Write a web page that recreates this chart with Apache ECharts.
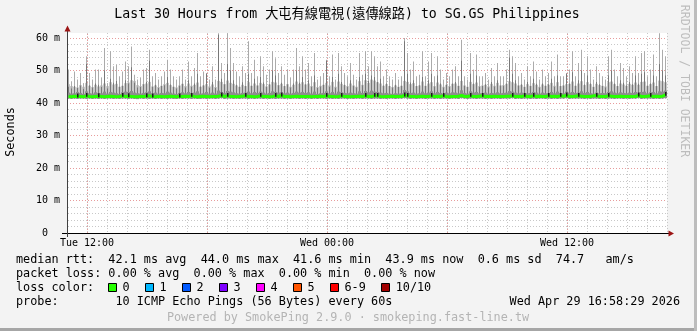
<!DOCTYPE html>
<html><head><meta charset="utf-8">
<script src="https://cdn.jsdelivr.net/npm/echarts@6/dist/echarts.min.js"></script>
<style>html,body{margin:0;padding:0;background:#f3f3f3}#c{width:697px;height:331px}</style>
</head><body><div id="c"></div>
<script>
// ---- data (minutes from Tue 11:00, 9-minute samples, values in ms) ----
const titleText = 'Last 30 Hours from 大屯有線電視(遠傳線路) to SG.GS Philippines';
const xTickLabels = {60: 'Tue 12:00', 780: 'Wed 00:00', 1500: 'Wed 12:00'};
const majorX = [60, 420, 780, 1140, 1500];
const minorY = [2,4,6,8,12,14,16,18,22,24,26,28,32,34,36,38,42,44,46,48,52,54,56,58];
const stepMin = 9;

const hi = [
50.3,46.7,49.7,47.2,49.2,46.1,54.4,49.2,47.2,50.3,
50.3,47.7,56.9,46.1,55.9,51.3,51.8,48.2,49.7,52.8,
51.3,57.4,48.7,47.2,47.7,50.3,50.8,56.4,48.2,49.2,
47.2,48.2,49.7,53.3,50.3,48.2,47.2,48.2,50.3,47.2,
52.8,48.2,50.8,55.4,48.2,49.7,49.2,47.2,51.3,47.2,
61.5,52.3,49.2,61.5,56.9,52.3,49.7,48.2,51.3,49.2,
59.0,49.2,53.3,48.2,54.4,51.3,48.7,50.3,55.9,53.8,
49.2,51.3,48.7,50.3,47.7,50.3,56.9,51.3,54.4,50.3,
52.3,48.2,55.4,47.2,48.2,49.2,53.3,48.2,54.9,47.2,
55.4,51.3,49.2,48.2,52.3,48.7,47.2,55.4,48.7,55.9,
51.3,55.9,54.4,51.3,52.8,48.2,50.3,48.2,47.2,49.2,
47.2,48.2,60.0,55.4,50.3,52.8,48.2,48.7,55.9,48.2,
52.8,55.4,48.2,54.4,50.3,47.2,49.2,48.2,50.3,51.3,
48.2,59.5,48.2,47.2,55.4,50.3,54.9,48.2,48.2,49.2,
47.2,50.8,48.2,52.3,48.2,48.2,50.3,56.4,54.4,52.3,
48.2,49.2,47.2,51.3,48.2,52.8,49.7,47.2,50.3,48.2,
49.2,52.8,48.2,54.9,48.2,48.2,49.2,50.3,55.9,48.2,
52.3,56.4,49.2,54.4,50.3,47.2,51.3,49.2,48.2,47.2,
54.4,56.4,50.3,48.2,52.3,50.8,48.2,51.3,49.2,54.4,
49.2,55.4,55.9,48.2,50.3,54.9,48.2,61.5,56.4,54.4];

const hi2 = [
45.0,44.5,45.2,44.6,45.4,44.3,52.0,45.5,44.8,46.0,
45.6,44.9,50.0,44.5,47.5,46.2,46.8,45.0,45.3,47.0,
46.0,51.0,46.2,44.8,44.9,45.8,46.5,53.0,45.0,45.6,
44.6,45.2,45.5,48.0,45.7,45.0,44.5,45.3,45.9,44.8,
47.0,45.0,46.0,49.0,45.1,45.5,49.0,44.7,46.5,44.6,
61.0,47.5,45.8,52.0,50.0,47.0,45.6,45.0,46.4,45.2,
49.0,45.3,47.5,45.4,48.0,46.3,45.0,45.8,50.0,48.5,
45.5,46.2,45.2,45.8,44.8,46.0,50.0,46.2,48.0,45.8,
47.0,45.0,48.5,44.6,45.1,45.6,53.0,45.0,48.0,44.7,
49.0,46.5,45.6,45.0,47.0,45.3,44.8,48.0,45.5,49.0,
46.8,48.5,48.0,46.5,47.5,45.4,46.0,45.2,44.8,45.6,
44.9,45.3,59.0,49.0,46.3,47.0,45.2,45.5,48.0,45.2,
47.0,49.0,45.1,48.5,46.0,44.8,45.6,45.0,46.0,46.5,
45.2,53.0,45.3,44.9,49.0,46.0,48.5,45.0,45.2,45.8,
44.8,46.5,45.1,47.0,45.4,45.3,46.0,54.0,49.0,47.0,
45.4,45.8,44.9,46.5,45.2,47.5,45.9,44.8,46.0,45.3,
45.8,47.5,45.0,48.5,45.2,45.4,49.0,46.0,49.5,45.3,
47.0,50.0,45.7,48.5,46.0,44.9,46.5,45.8,45.2,44.8,
48.5,50.0,46.0,45.2,47.0,46.2,45.4,46.5,45.8,48.5,
45.9,49.0,49.5,45.3,46.0,48.5,45.2,52.0,50.0,48.5];

const mid = [
45.8,45.2,45.0,44.8,45.5,45.0,46.2,45.3,44.9,45.6,
45.1,45.4,46.0,45.2,46.4,45.7,45.9,45.0,45.3,46.1,
46.3,47.0,46.8,45.5,45.2,45.8,46.0,46.5,45.1,45.4,
44.9,45.3,45.8,46.2,45.5,45.0,44.8,45.4,45.9,45.2,
46.0,45.3,45.6,46.3,45.0,45.4,45.8,45.1,45.7,44.9,
46.8,46.5,45.8,46.9,46.2,45.9,45.4,45.0,45.6,45.2,
46.4,45.3,46.0,45.4,46.2,45.8,45.1,45.7,46.5,46.3,
45.5,45.9,45.2,45.8,45.0,45.6,46.6,45.9,46.4,45.7,
46.0,45.2,46.4,44.9,45.3,45.6,46.2,45.4,46.5,45.0,
46.6,45.9,45.5,45.2,46.0,45.4,45.0,46.7,45.6,47.0,
46.2,47.2,46.9,46.4,46.0,45.3,45.8,45.2,44.9,45.4,
45.0,45.3,46.8,46.5,45.8,46.1,45.2,45.4,46.6,45.3,
46.0,46.4,45.2,46.3,45.7,45.0,45.6,45.2,45.9,46.0,
45.3,46.8,45.4,45.0,46.5,45.8,46.3,45.2,45.4,45.6,
45.1,45.9,45.3,46.2,45.4,45.5,45.9,46.7,46.4,46.0,
45.4,45.6,45.0,45.8,45.3,46.1,45.6,45.0,45.7,45.3,
45.6,46.2,45.3,46.4,45.2,45.4,45.8,45.9,46.6,45.3,
46.0,46.7,45.5,46.4,45.8,45.0,45.9,45.5,45.3,45.1,
46.4,46.6,45.8,45.2,46.0,45.7,45.3,45.9,45.6,46.3,
45.6,46.5,46.6,45.3,45.8,46.3,45.2,46.9,46.7,46.4];

const dark = [
43.2,42.9,43.0,43.4,43.1,42.8,43.6,43.0,42.9,43.3,
43.1,43.0,43.5,42.9,43.4,43.2,43.0,42.8,43.3,43.5,
43.4,43.7,43.2,43.0,42.9,43.1,43.3,43.6,43.0,43.2,
42.9,43.1,43.0,43.5,43.2,42.9,42.8,43.1,43.3,43.0,
43.4,43.1,43.2,43.6,42.9,43.0,43.4,42.9,43.2,42.9,
43.8,43.4,43.1,43.7,43.5,43.3,43.0,42.9,43.1,43.2,
43.5,43.0,43.4,43.1,43.5,43.2,42.9,43.1,43.6,43.4,
43.2,43.3,43.0,43.2,42.9,43.1,43.5,43.2,43.4,43.1,
43.3,42.9,43.5,42.8,43.0,43.1,43.6,43.0,43.4,42.9,
43.5,43.3,43.1,43.0,43.2,43.0,42.9,43.6,43.1,43.7,
43.3,43.8,43.5,43.4,43.2,43.0,43.1,42.9,42.8,43.0,
42.9,43.0,44.0,43.6,43.1,43.2,42.9,43.0,43.5,43.0,
43.2,43.6,43.0,43.4,43.1,42.9,43.2,43.0,43.3,43.2,
43.0,43.9,43.1,42.9,43.6,43.2,43.4,43.0,43.1,43.2,
42.9,43.1,43.0,43.3,43.0,43.1,43.2,43.7,43.5,43.2,
43.0,43.2,43.1,43.0,43.1,43.4,43.2,42.9,43.2,43.0,
43.1,43.4,43.0,43.5,43.1,43.0,43.5,43.2,43.4,43.1,
43.2,43.6,43.1,43.4,43.0,42.9,43.2,43.0,43.1,43.0,
43.4,43.6,43.2,43.0,43.3,43.1,43.0,43.2,43.1,43.4,
43.2,43.4,43.5,43.0,43.3,43.4,43.0,43.6,43.5,43.8];

const lo = [
41.4,41.3,41.4,41.3,41.4,41.4,41.3,41.4,41.3,41.4,
41.3,41.4,41.3,41.4,41.4,41.3,41.4,41.3,41.4,41.4,
41.3,41.4,41.3,41.2,41.4,41.3,41.4,41.3,41.4,41.3,
41.4,41.3,41.4,41.3,41.4,41.3,41.3,41.4,41.3,41.4,
41.4,41.3,41.4,41.3,41.3,41.4,41.3,41.4,41.4,41.3,
41.4,41.5,41.3,41.4,41.4,41.3,41.4,41.3,41.4,41.4,
41.3,41.4,41.3,41.4,41.4,41.3,41.4,41.3,41.4,41.3,
41.4,41.4,41.3,41.4,41.3,41.4,41.4,41.3,41.4,41.3,
41.4,41.3,41.4,41.3,41.4,41.4,41.3,41.4,41.3,41.4,
41.3,41.4,41.4,41.3,41.4,41.3,41.4,41.4,41.3,41.4,
41.4,41.3,41.4,41.4,41.3,41.4,41.3,41.4,41.4,41.3,
41.4,41.4,41.5,41.4,41.3,41.4,41.3,41.4,41.4,41.3,
41.4,41.4,41.3,41.4,41.3,41.4,41.4,41.3,41.4,41.4,
41.3,41.5,41.4,41.3,41.4,41.4,41.3,41.4,41.4,41.3,
41.4,41.3,41.4,41.4,41.3,41.4,41.4,41.4,41.5,41.3,
41.4,41.3,41.4,41.4,41.3,41.4,41.3,41.4,41.4,41.3,
41.4,41.3,41.4,41.3,41.4,41.4,41.5,41.3,41.4,41.4,
41.4,41.4,41.3,41.4,41.3,41.4,41.4,41.3,41.4,41.3,
41.4,41.4,41.3,41.4,41.4,41.3,41.4,41.3,41.4,41.4,
41.5,41.3,41.4,41.4,41.4,41.3,41.4,41.3,41.4,41.5];

const med = [
42.0,41.9,42.1,42.0,42.0,41.9,42.2,42.0,41.9,42.0,
42.1,42.0,41.9,42.0,42.1,42.0,41.9,42.0,42.2,42.0,
42.1,42.0,41.9,41.9,42.0,42.0,42.1,42.2,42.0,41.9,
42.0,42.0,41.9,42.0,42.1,42.0,41.9,42.0,42.0,42.1,
42.0,42.2,42.0,41.9,42.0,42.1,42.0,41.9,42.0,42.0,
42.1,42.3,42.0,42.2,42.0,42.0,41.9,42.0,42.1,42.2,
42.0,42.0,41.9,42.0,42.2,42.0,42.0,41.9,42.0,42.2,
42.0,42.3,42.0,42.0,41.9,42.0,42.1,42.0,42.0,42.0,
42.0,41.9,42.0,42.0,42.1,42.0,42.2,42.0,42.0,41.9,
42.0,42.2,42.0,42.0,41.9,42.0,42.0,42.1,42.0,42.2,
42.0,42.0,42.2,42.2,42.0,41.9,42.0,42.0,42.1,42.0,
42.0,42.0,42.3,42.2,42.0,42.0,41.9,42.0,42.1,42.0,
42.0,42.2,42.0,42.1,42.0,42.2,42.0,41.9,42.0,42.0,
42.1,42.3,42.0,42.0,42.2,42.0,42.0,42.1,42.2,42.0,
42.0,42.0,42.1,42.0,42.0,42.0,42.1,42.1,42.2,42.0,
42.0,42.0,42.2,42.0,42.0,42.2,42.0,42.1,42.0,42.0,
42.2,42.0,42.1,42.0,42.2,42.1,42.3,42.0,42.0,42.1,
42.2,42.1,42.0,42.0,42.0,42.2,42.2,42.0,42.0,42.0,
42.2,42.1,42.0,42.0,42.1,42.0,42.0,42.0,42.0,42.0,
42.3,42.0,42.0,42.1,42.2,42.0,42.1,42.0,42.1,42.5];

const blackIdx = [3,6,10,18,20,26,28,37,41,51,53,59,64,69,71,86,91,99,102,103,112,113,121,125,134,138,148,152,155,160,164,166,170,176,180,190,194,199];

const legendLines = [
  'median rtt:  42.1 ms avg  44.0 ms max  41.6 ms min  43.9 ms now  0.6 ms sd  74.7   am/s',
  'packet loss: 0.00 % avg  0.00 % max  0.00 % min  0.00 % now',
  'loss color:',
  'probe:        10 ICMP Echo Pings (56 Bytes) every 60s'
];
const lossLabels = ['0','1','2','3','4','5','6-9','10/10'];
const lossColors = ['#26ff00','#00b8ff','#0059ff','#7e00ff','#ff00ff','#ff5500','#ff0000','#a10000'];
const dateText = 'Wed Apr 29 16:58:29 2026';
const poweredText = 'Powered by SmokePing 2.9.0 · smokeping.fast-line.tw';
const watermark = 'RRDTOOL / TOBI OETIKER';

// ---- build ----
const MONO = '"DejaVu Sans Mono", "Liberation Mono", monospace';
const TITLEF = '"DejaVu Sans Mono", "Noto Sans CJK TC", monospace';
const xc = i => i * stepMin + stepMin / 2;
const smokeData = hi.map((h, i) => [xc(i), lo[i], mid[i], dark[i], h, hi2[i]]);
const medData = med.map((m, i) => [xc(i), m]);
const blackData = blackIdx.map(i => [xc(i), med[i]]);

const chart = echarts.init(document.getElementById('c'), null, {renderer: 'canvas'});

function crisp(v) { return Math.round(v - 0.5) + 0.5; }

const graphics = [];
graphics.push({type: 'text', x: 347, y: 15, z: 10, style: {text: titleText, fontSize: 13.2, fontFamily: TITLEF, fill: '#000', align: 'center', verticalAlign: 'middle', textAlign: 'center', textVerticalAlign: 'middle'}});
graphics.push({type: 'text', x: 11, y: 132, rotation: Math.PI / 2, z: 10, style: {text: 'Seconds', fontSize: 11.8, fontFamily: MONO, fill: '#000', align: 'center', verticalAlign: 'middle', textAlign: 'center', textVerticalAlign: 'middle'}});
graphics.push({type: 'text', x: 684, y: 81, rotation: -Math.PI / 2, z: 10, style: {text: watermark, fontSize: 11.5, fontFamily: MONO, fill: '#bdbdbd', align: 'center', verticalAlign: 'middle', textAlign: 'center', textVerticalAlign: 'middle'}});
const rowY = [259.5, 273.5, 287.5, 301.5];
legendLines.forEach((t, k) => graphics.push({type: 'text', x: 16, y: rowY[k], z: 10, style: {text: t, fontSize: 11.8, fontFamily: MONO, fill: '#000', align: 'left', verticalAlign: 'middle', textAlign: 'left', textVerticalAlign: 'middle'}}));
let bx = 107.5;
lossLabels.forEach((lab, k) => {
  graphics.push({type: 'rect', z: 10, shape: {x: Math.round(bx) + 0.5, y: 283.5, width: 8, height: 8}, style: {fill: lossColors[k], stroke: '#000', lineWidth: 1}});
  graphics.push({type: 'text', x: bx + 15, y: 287.5, z: 10, style: {text: lab, fontSize: 11.8, fontFamily: MONO, fill: '#000', align: 'left', verticalAlign: 'middle', textAlign: 'left', textVerticalAlign: 'middle'}});
  bx += 15 + lab.length * 7.1 + 14.9;
});
graphics.push({type: 'text', x: 680, y: 301.5, z: 10, style: {text: dateText, fontSize: 11.8, fontFamily: MONO, fill: '#000', align: 'right', verticalAlign: 'middle', textAlign: 'right', textVerticalAlign: 'middle'}});
graphics.push({type: 'text', x: 348, y: 318, z: 10, style: {text: poweredText, fontSize: 11.8, fontFamily: MONO, fill: '#b4b4b4', align: 'center', verticalAlign: 'middle', textAlign: 'center', textVerticalAlign: 'middle'}});
// axis lines and arrows
graphics.push({type: 'line', z: 20, shape: {x1: 62, y1: 233.5, x2: 670, y2: 233.5}, style: {stroke: '#000', lineWidth: 1}});
graphics.push({type: 'line', z: 20, shape: {x1: 67.5, y1: 237, x2: 67.5, y2: 29}, style: {stroke: '#404040', lineWidth: 1}});
graphics.push({type: 'polygon', z: 21, shape: {points: [[67.5, 25.5], [64.5, 31.5], [70.5, 31.5]]}, style: {fill: '#9c1414'}});
graphics.push({type: 'polygon', z: 21, shape: {points: [[674, 233.5], [668.5, 230.5], [668.5, 236.5]]}, style: {fill: '#9c1414'}});
// frame shading
graphics.push({type: 'rect', z: 30, shape: {x: 0, y: 328, width: 697, height: 3}, style: {fill: '#a6a6a6'}});
graphics.push({type: 'rect', z: 30, shape: {x: 694, y: 0, width: 3, height: 331}, style: {fill: '#bdbdbd'}});

const option = {
  animation: false,
  backgroundColor: '#f3f3f3',
  grid: {left: 67, right: 30, top: 33, bottom: 98, show: true, backgroundColor: '#ffffff', borderWidth: 0},
  xAxis: {
    type: 'value', min: 0, max: 1800, interval: 60,
    axisLine: {show: false}, axisTick: {show: false},
    axisLabel: {formatter: v => xTickLabels[v] || '', fontSize: 10, fontFamily: MONO, color: '#000', margin: 5, hideOverlap: false},
    splitLine: {show: true, showMinLine: false, lineStyle: {color: '#c8c8c8', type: [1, 2], width: 1}}
  },
  yAxis: {
    type: 'value', min: 0, max: 61.54, interval: 10,
    axisLine: {show: false}, axisTick: {show: false},
    axisLabel: {showMaxLabel: false, formatter: v => v === 0 ? '0  ' : (Math.abs(v % 10) < 1e-6 ? v + ' m' : ''), fontSize: 10, fontFamily: MONO, color: '#000', margin: 7},
    splitLine: {show: true, showMinLine: false, showMaxLine: false, lineStyle: {color: '#e89c9c', type: [1, 2], width: 1}}
  },
  graphic: graphics,
  series: [
    {
      type: 'custom', z: 1, silent: true, data: minorY.map(v => [v]),
      encode: {y: 0},
      renderItem: (params, api) => {
        const a = api.coord([0, api.value(0)]);
        const b = api.coord([1800, api.value(0)]);
        const y = crisp(a[1]);
        return {type: 'line', shape: {x1: a[0] + 1, y1: y, x2: b[0], y2: y}, style: {stroke: '#c8c8c8', lineWidth: 1, lineDash: [1, 2]}};
      }
    },
    {
      type: 'custom', z: 1, silent: true, data: majorX.map(v => [v]),
      encode: {x: 0},
      renderItem: (params, api) => {
        const a = api.coord([api.value(0), 0]);
        const b = api.coord([api.value(0), 61.54]);
        const x = crisp(a[0]);
        return {type: 'line', shape: {x1: x, y1: a[1], x2: x, y2: b[1]}, style: {stroke: '#e89c9c', lineWidth: 1, lineDash: [1, 2]}};
      }
    },
    {
      type: 'custom', z: 2, silent: true, data: smokeData,
      encode: {x: 0, y: [1, 2, 3, 4, 5]},
      renderItem: (params, api) => {
        const x = api.value(0);
        const pLo = api.coord([x, api.value(1)]);
        const pMid = api.coord([x, api.value(2)]);
        const pDark = api.coord([x, api.value(3)]);
        const pHi = api.coord([x, api.value(4)]);
        const pHi2 = api.coord([x, api.value(5)]);
        const w = api.size([stepMin, 0])[0];
        const cx = pLo[0];
        return {type: 'group', children: [
          {type: 'rect', shape: {x: cx - w / 2, y: pMid[1], width: w, height: pLo[1] - pMid[1]}, style: {fill: '#c9c9c9'}},
          {type: 'rect', shape: {x: cx - 0.5, y: pHi[1], width: 1, height: pLo[1] - pHi[1]}, style: {fill: '#ababab'}},
          {type: 'rect', shape: {x: cx - 0.5, y: pHi2[1], width: 1, height: pLo[1] - pHi2[1]}, style: {fill: '#787878'}},
          {type: 'rect', shape: {x: cx - w / 2, y: pDark[1], width: w, height: pLo[1] - pDark[1]}, style: {fill: '#8e8e8e'}}
        ]};
      }
    },
    {
      type: 'line', z: 3, silent: true, data: medData, symbol: 'none',
      lineStyle: {color: '#26ff00', width: 3}
    },
    {
      type: 'custom', z: 4, silent: true, data: blackData,
      encode: {x: 0, y: 1},
      renderItem: (params, api) => {
        const p = api.coord([api.value(0), api.value(1) + 0.9]);
        const q = api.coord([api.value(0), api.value(1) - 0.3]);
        return {type: 'rect', shape: {x: Math.round(p[0]) - 1, y: p[1], width: 1.5, height: q[1] - p[1]}, style: {fill: '#1c1c1c'}};
      }
    }
  ]
};
chart.setOption(option);
</script>
</body></html>
